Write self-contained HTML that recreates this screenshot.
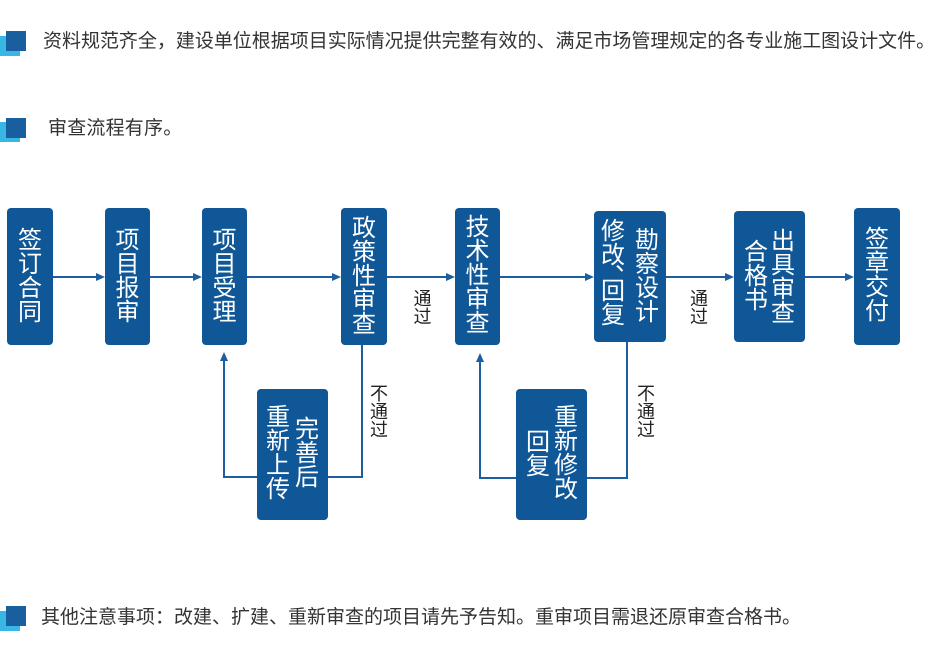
<!DOCTYPE html>
<html><head><meta charset="utf-8">
<style>
html,body{margin:0;padding:0;background:#fff;}
body{width:926px;height:661px;position:relative;overflow:hidden;font-family:"Liberation Sans","Noto Sans CJK SC",sans-serif;}
.t{position:absolute;font-size:19px;color:#333;white-space:nowrap;line-height:24px;letter-spacing:0.2px;}
.sq{position:absolute;width:20px;height:20px;}
.lb{background:#38b6e4;}
.db{background:#195e9f;}
.box{position:absolute;background:#0f5796;border-radius:4px;}
.c{position:absolute;width:30px;margin-left:-15px;font-size:24px;line-height:24px;color:#fff;text-align:center;}
.l{position:absolute;width:24px;margin-left:-12px;font-size:18px;line-height:18px;color:#222;text-align:center;}
.h{display:block;height:12px;line-height:12px;}
</style></head><body>

<div class="sq lb" style="left:0;top:36px;"></div>
<div class="sq db" style="left:6px;top:31px;"></div>
<div class="t" style="left:43px;top:30px;letter-spacing:-0.02px;">资料规范齐全，建设单位根据项目实际情况提供完整有效的、满足市场管理规定的各专业施工图设计文件。</div>

<div class="sq lb" style="left:0;top:122px;"></div>
<div class="sq db" style="left:6px;top:118px;"></div>
<div class="t" style="left:48px;top:117px;">审查流程有序。</div>

<div class="sq lb" style="left:0;top:611px;"></div>
<div class="sq db" style="left:6px;top:606px;"></div>
<div class="t" style="left:41px;top:606px;letter-spacing:0px;">其他注意事项：改建、扩建、重新审查的项目请先予告知。重审项目需退还原审查合格书。</div>

<svg width="926" height="661" style="position:absolute;left:0;top:0;" xmlns="http://www.w3.org/2000/svg">
<g stroke="#1c5e9e" stroke-width="2" fill="none">
<line x1="53" y1="277" x2="97" y2="277"/>
<line x1="150" y1="277" x2="194" y2="277"/>
<line x1="247" y1="277" x2="333" y2="277"/>
<line x1="387" y1="277" x2="447" y2="277"/>
<line x1="500" y1="277" x2="586" y2="277"/>
<line x1="666" y1="277" x2="726" y2="277"/>
<line x1="805" y1="277" x2="846" y2="277"/>
<polyline points="362,345 362,477 328,477"/>
<polyline points="257,477 224,477 224,360"/>
<polyline points="627,342 627,478 587,478"/>
<polyline points="516,478 480,478 480,361"/>
</g>
<g fill="#1c5e9e">
<polygon points="105,277 96,273 96,281"/>
<polygon points="202,277 193,273 193,281"/>
<polygon points="341,277 332,273 332,281"/>
<polygon points="455,277 446,273 446,281"/>
<polygon points="594,277 585,273 585,281"/>
<polygon points="734,277 725,273 725,281"/>
<polygon points="854,277 845,273 845,281"/>
<polygon points="224,352 220,361 228,361"/>
<polygon points="480,353 476,362 484,362"/>
</g>
</svg>

<div class="box" style="left:7px;top:208px;width:46px;height:137px;"></div>
<div class="c" style="left:30px;top:229px;">签<br>订<br>合<br>同</div>

<div class="box" style="left:105px;top:208px;width:45px;height:137px;"></div>
<div class="c" style="left:127.5px;top:229px;">项<br>目<br>报<br>审</div>

<div class="box" style="left:202px;top:208px;width:45px;height:137px;"></div>
<div class="c" style="left:224.5px;top:229px;">项<br>目<br>受<br>理</div>

<div class="box" style="left:341px;top:208px;width:46px;height:137px;"></div>
<div class="c" style="left:364px;top:217px;">政<br>策<br>性<br>审<br>查</div>

<div class="box" style="left:455px;top:208px;width:45px;height:137px;"></div>
<div class="c" style="left:477.5px;top:216px;">技<br>术<br>性<br>审<br>查</div>

<div class="box" style="left:594px;top:211px;width:72px;height:131px;"></div>
<div class="c" style="left:647px;top:229px;">勘<br>察<br>设<br>计</div>
<div class="c" style="left:613px;top:220px;">修<br>改<span class="h"></span>回<br>复</div>
<div style="position:absolute;left:615px;top:251px;font-size:24px;line-height:24px;color:#fff;">、</div>

<div class="box" style="left:734px;top:211px;width:71px;height:131px;"></div>
<div class="c" style="left:783px;top:230px;">出<br>具<br>审<br>查</div>
<div class="c" style="left:756px;top:241px;">合<br>格<br>书</div>

<div class="box" style="left:854px;top:208px;width:46px;height:137px;"></div>
<div class="c" style="left:877px;top:228px;">签<br>章<br>交<br>付</div>

<div class="box" style="left:257px;top:389px;width:71px;height:131px;"></div>
<div class="c" style="left:278px;top:405.5px;">重<br>新<br>上<br>传</div>
<div class="c" style="left:307px;top:417.5px;">完<br>善<br>后</div>

<div class="box" style="left:516px;top:389px;width:71px;height:131px;"></div>
<div class="c" style="left:566px;top:405.5px;">重<br>新<br>修<br>改</div>
<div class="c" style="left:538px;top:430.5px;">回<br>复</div>

<div class="l" style="left:422.5px;top:290px;">通<br>过</div>
<div class="l" style="left:699px;top:290px;">通<br>过</div>
<div class="l" style="left:379px;top:385px;">不<br>通<br>过</div>
<div class="l" style="left:646px;top:385px;">不<br>通<br>过</div>

</body></html>
